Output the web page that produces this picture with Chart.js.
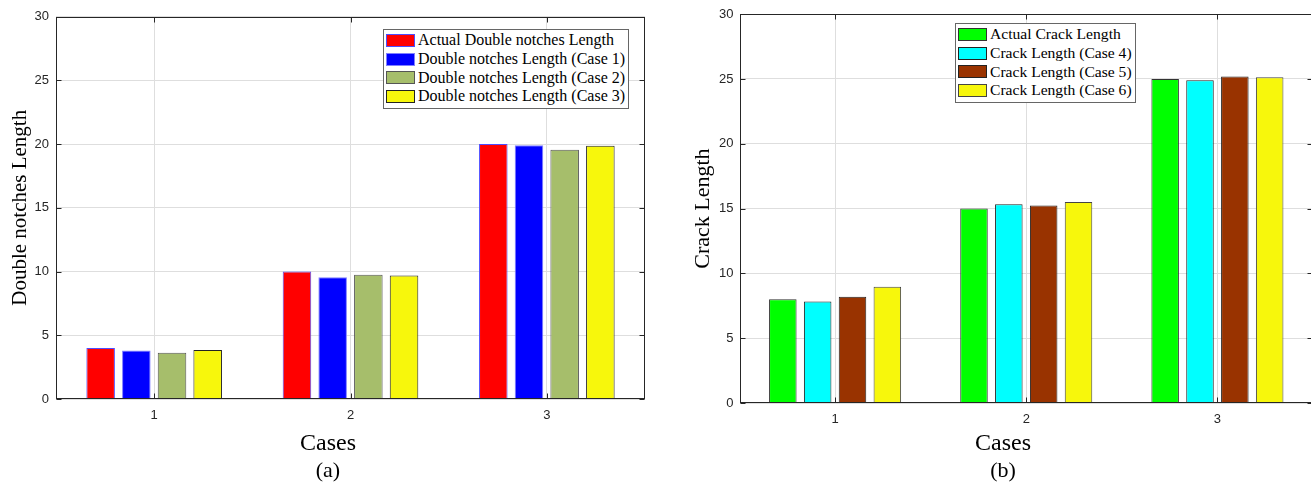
<!DOCTYPE html>
<html><head><meta charset="utf-8">
<script src="https://cdn.jsdelivr.net/npm/chart.js@4.4.0/dist/chart.umd.min.js"></script>
<style>
html,body{margin:0;padding:0;background:#fff;overflow:hidden;width:1311px;height:487px;}
.wrap{position:absolute;top:0;}
canvas{display:block;}
.legend{position:absolute;border:1px solid #666;background:#fff;padding:1px 3px 2px 2px;font-family:"Liberation Serif",serif;color:#000;}
.row{display:flex;align-items:center;height:18.7px;white-space:nowrap;}
.sw{width:27px;height:11px;margin-right:3px;border:1.5px solid #000;}
.xt{position:absolute;width:200px;text-align:center;font-family:"Liberation Serif",serif;color:#000;line-height:1;transform:translate(-50%,-50%);}
</style></head><body>
<div class="wrap" style="left:0;width:660px;height:487px"><canvas id="ca" width="660" height="487"></canvas></div>
<div class="wrap" style="left:680px;width:660px;height:487px"><canvas id="cb" width="660" height="487"></canvas></div>
<div id="lega" class="legend" style="left:383px;top:29px;font-size:16px"></div>
<div id="legb" class="legend" style="left:955px;top:23px;font-size:15.6px"></div>
<div id="xta" class="xt" style="left:328px;top:442px;font-size:24px"></div>
<div id="suba" class="xt" style="left:328px;top:470px;font-size:22px"></div>
<div id="xtb" class="xt" style="left:1003px;top:442px;font-size:24px"></div>
<div id="subb" class="xt" style="left:1003px;top:470px;font-size:22px"></div>
<script>
// ---- data ----
const categories = ['1', '2', '3'];
const yTicks = [0, 5, 10, 15, 20, 25, 30];
const xTitle = 'Cases';

const notchLabels = ['Actual Double notches Length', 'Double notches Length (Case 1)', 'Double notches Length (Case 2)', 'Double notches Length (Case 3)'];
const notchActual = [4.0, 10.0, 20.0];
const notchCase1 = [3.8, 9.56, 19.9];
const notchCase2 = [3.62, 9.74, 19.55];
const notchCase3 = [3.85, 9.69, 19.86];

const crackLabels = ['Actual Crack Length', 'Crack Length (Case 4)', 'Crack Length (Case 5)', 'Crack Length (Case 6)'];
const crackActual = [8.0, 15.0, 25.0];
const crackCase4 = [7.83, 15.33, 24.9];
const crackCase5 = [8.2, 15.23, 25.2];
const crackCase6 = [8.97, 15.5, 25.13];

// ---- styles ----
const notchFill = ['#ff0000', '#0000ff', '#a6be6b', '#f7f70c'];
const notchEdge = ['#4d4dff', '#7f7fff', '#555555', '#222222'];
const crackFill = ['#00ff00', '#00ffff', '#993300', '#f7f70c'];
const crackEdge = ['#333333', '#222222', '#222222', '#444444'];

Chart.defaults.devicePixelRatio = 1;

const framePlugin = {
  id: 'frame',
  afterDraw(chart) {
    const {ctx, chartArea: a, scales: {x, y}} = chart;
    ctx.save();
    ctx.strokeStyle = '#262626';
    ctx.lineWidth = 1;
    const L = Math.round(a.left) + 0.5, R = Math.round(a.right) - 0.5;
    const T = Math.round(a.top) + 0.5, B = Math.round(a.bottom) - 0.5;
    ctx.strokeRect(L, T, R - L, B - T);
    ctx.beginPath();
    y.ticks.forEach((t, i) => {
      const py = Math.round(y.getPixelForTick(i)) + 0.5;
      ctx.moveTo(L, py); ctx.lineTo(L + 5, py);
      ctx.moveTo(R, py); ctx.lineTo(R - 5, py);
    });
    x.ticks.forEach((t, i) => {
      const px = Math.round(x.getPixelForTick(i)) + 0.5;
      ctx.moveTo(px, B); ctx.lineTo(px, B - 5);
      ctx.moveTo(px, T); ctx.lineTo(px, T + 5);
    });
    ctx.stroke();
    ctx.restore();
  }
};

function makeChart(id, labels, series, fills, edges, yTitle, g) {
  const datasets = series.map((d, i) => ({
    label: labels[i], data: d, backgroundColor: fills[i], borderColor: edges[i],
    borderWidth: 1, categoryPercentage: g.cp, barPercentage: g.bp
  }));
  return new Chart(document.getElementById(id), {
    type: 'bar',
    data: {labels: categories, datasets},
    plugins: [framePlugin],
    options: {
      responsive: false, animation: false,
      layout: {padding: {top: g.top, right: g.right, left: 0, bottom: 0}},
      plugins: {legend: {display: false}, tooltip: {enabled: false}},
      scales: {
        x: {
          grid: {color: '#dedede', offset: false, drawTicks: false},
          border: {display: false},
          ticks: {font: {family: 'Liberation Sans', size: 13}, color: '#262626', padding: g.xpad},
          afterFit: s => { s.height = g.xh; }
        },
        y: {
          min: 0, max: 30,
          grid: {color: '#dedede', drawTicks: false},
          border: {display: false},
          afterBuildTicks: s => { s.ticks = yTicks.map(v => ({value: v})); },
          ticks: {font: {family: 'Liberation Sans', size: 13}, color: '#262626', padding: g.ypad},
          title: {display: true, text: yTitle, color: '#000',
            font: {family: 'Liberation Serif', size: g.ts, lineHeight: 1.2}, padding: {top: g.tp, bottom: 0}},
          afterFit: s => { s.width = g.yw; }
        }
      }
    }
  });
}

function makeLegend(id, labels, fills, edges) {
  const el = document.getElementById(id);
  labels.forEach((t, i) => {
    const r = document.createElement('div'); r.className = 'row';
    const sw = document.createElement('div'); sw.className = 'sw';
    sw.style.background = fills[i]; sw.style.borderColor = edges[i];
    const tx = document.createElement('span'); tx.textContent = t;
    r.appendChild(sw); r.appendChild(tx); el.appendChild(r);
  });
}

makeChart('ca', notchLabels, [notchActual, notchCase1, notchCase2, notchCase3], notchFill, notchEdge,
  'Double notches Length',
  {cp: 0.727, bp: 0.80, top: 16.6, right: 15, xh: 88, yw: 56, xpad: 9, ypad: 7, ts: 21, tp: 7.4});
makeChart('cb', crackLabels, [crackActual, crackCase4, crackCase5, crackCase6], crackFill, crackEdge,
  'Crack Length',
  {cp: 0.729, bp: 0.79, top: 14.2, right: 27, xh: 84, yw: 59.5, xpad: 9, ypad: 6, ts: 22, tp: 10.5});
makeLegend('lega', notchLabels, notchFill, notchEdge);
makeLegend('legb', crackLabels, crackFill, crackEdge);
document.getElementById('xta').textContent = xTitle;
document.getElementById('xtb').textContent = xTitle;
document.getElementById('suba').textContent = '(a)';
document.getElementById('subb').textContent = '(b)';
</script>
</body></html>
